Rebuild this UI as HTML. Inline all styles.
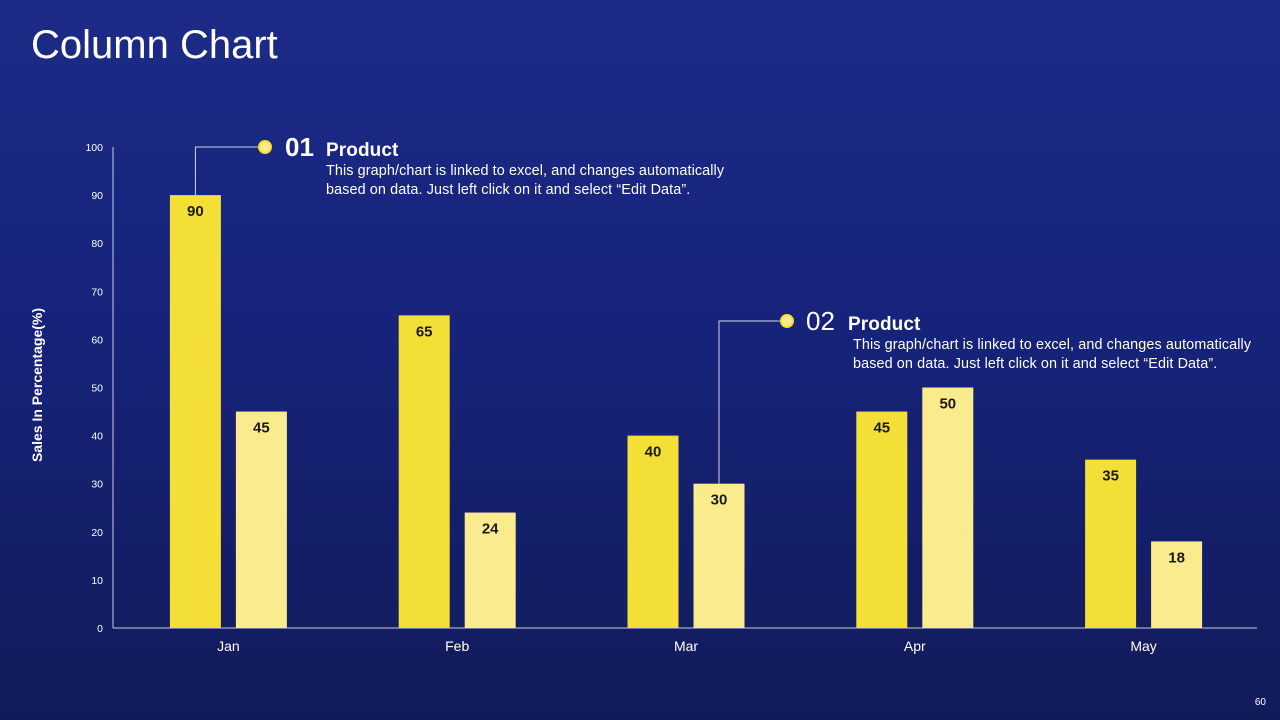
<!DOCTYPE html>
<html><head><meta charset="utf-8"><style>
html,body{margin:0;padding:0;width:1280px;height:720px;overflow:hidden}
body{background:linear-gradient(180deg,#1c2b87 0%,#17237a 45%,#121b5a 100%);font-family:"Liberation Sans",sans-serif;color:#fff;position:relative}
.title{position:absolute;left:31px;top:23px;font-size:40px;font-weight:normal}
.pg{position:absolute;right:14px;top:697px;font-size:10px}
.co{position:absolute;font-size:14.4px;line-height:19px;letter-spacing:0.1px}
.co .num{font-size:26px;position:absolute;top:-9px}
.co .hd{font-size:19px;font-weight:bold;position:absolute;top:-6px}
.co .tx{position:absolute;top:15px;width:440px}
</style></head><body>
<div class="title">Column Chart</div>
<svg id="chart" width="1280" height="720" style="position:absolute;left:0;top:0"></svg>
<div class="co" style="left:285px;top:147px">
<span class="num" style="left:0;font-weight:bold">01</span><span class="hd" style="left:41px">Product</span>
<div class="tx" style="left:41px">This graph/chart is linked to excel, and changes automatically based on data. Just left click on it and select “Edit Data”.</div></div>
<div class="co" style="left:806px;top:321px">
<span class="num" style="left:0">02</span><span class="hd" style="left:42px">Product</span>
<div class="tx" style="left:47px">This graph/chart is linked to excel, and changes automatically based on data. Just left click on it and select “Edit Data”.</div></div>
<div class="pg">60</div>
<script>
const categories=["Jan","Feb","Mar","Apr","May"];
const series1=[90,65,40,45,35];
const series2=[45,24,30,50,18];
const yTicks=[0,10,20,30,40,50,60,70,80,90,100];
const NS="http://www.w3.org/2000/svg";
const svg=document.getElementById('chart');
const x0=113,x1=1257,yB=628,yT=147;
const y=v=>yB-(v/100)*(yB-yT);
const band=(x1-x0)/categories.length;
const xc=i=>x0+band*(i+0.5)+1;
function mk(t,a,txt){const e=document.createElementNS(NS,t);for(const k in a)e.setAttribute(k,a[k]);if(txt!==undefined)e.textContent=txt;svg.appendChild(e);return e;}
let ax=mk('line',{x1:x0,y1:yT,x2:x0,y2:yB,stroke:'#c8cce0','stroke-width':1});


let bx=mk('line',{x1:x0,y1:yB,x2:x1,y2:yB,stroke:'#c8cce0','stroke-width':1});


yTicks.forEach(v=>{const t=mk('text',{x:103,y:y(v)+4,'text-anchor':'end','font-size':10.5,fill:'#fff'},v);

});
const yt=mk('text',{x:42,y:385,'text-anchor':'middle','font-size':14,'font-weight':'bold',fill:'#fff',transform:'rotate(-90 42 385)'},'Sales In Percentage(%)');


const bw=51,off=33;
categories.forEach((c,i)=>{
 const l=mk('text',{x:xc(i),y:651,'text-anchor':'middle','font-size':14,fill:'#fff'},c);
 
 
 [[series1,'#f4df37',-off,'series1'],[series2,'#f9eb8e',off,'series2']].forEach(([s,col,o,n])=>{
  const cx=xc(i)+o;
  const r=mk('rect',{x:cx-bw/2,y:y(s[i]),width:bw,height:yB-y(s[i]),fill:col});
  
  
  const t=mk('text',{x:cx,y:y(s[i])+21,'text-anchor':'middle','font-size':15,'font-weight':'bold',fill:'#1a1a1a'},s[i]);
  
  
 });
});
function leader(i,s,o,yDot,xDot){
 const cx=xc(i)+o;
 const p=mk('polyline',{points:`${cx},${y(s[i])} ${cx},${yDot} ${xDot},${yDot}`,fill:'none',stroke:'#d0d4e6','stroke-width':1});
 
 
 const d=mk('circle',{cx:xDot,cy:yDot,r:6,fill:'#f9eb8e',stroke:'#f4df37','stroke-width':2});
 
 
}
leader(0,series1,-off,147,265);
leader(2,series2,off,321,787);
</script>
</body></html>
